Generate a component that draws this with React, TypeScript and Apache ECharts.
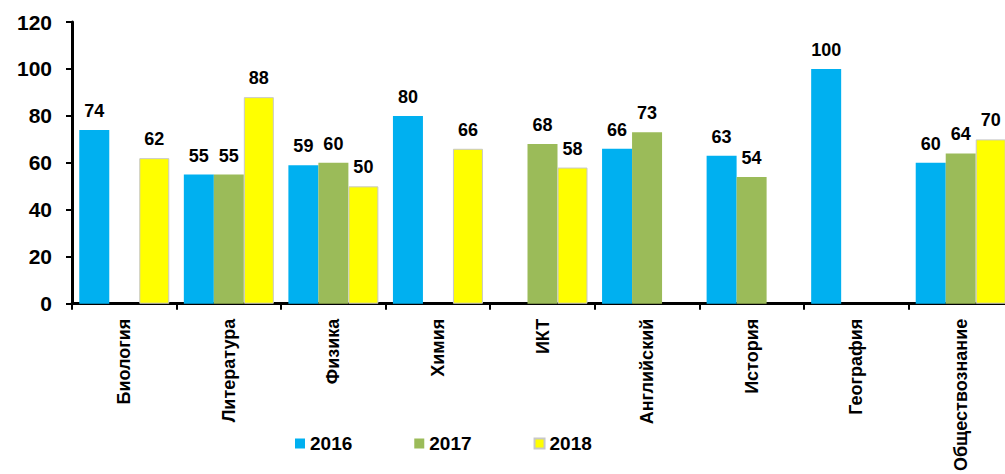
import React, { useEffect, useRef } from "react";
import * as echarts from "echarts";

const categories = [
  "Биология",
  "Литература",
  "Физика",
  "Химия",
  "ИКТ",
  "Английский",
  "История",
  "География",
  "Обществознание",
];
const years = ["2016", "2017", "2018"];
const values2016 = [74, 55, 59, 80, null, 66, 63, 100, 60];
const values2017 = [null, 55, 60, null, 68, 73, 54, null, 64];
const values2018 = [62, 88, 50, 66, 58, null, null, null, 70];
const yTicks = { min: 0, max: 120, interval: 20 };
const colors = ["#00B0F0", "#9BBB59", "#FFFF00"];

const FONT = "'Liberation Sans', Arial, sans-serif";

export default function App() {
  const ref = useRef<HTMLDivElement>(null);
  useEffect(() => {
    if (!ref.current) return;
    const chart = echarts.init(ref.current, undefined, { renderer: "svg" });
    const seriesData = [values2016, values2017, values2018];
    chart.setOption({
      animation: false,
      backgroundColor: "#ffffff",
      textStyle: { fontFamily: FONT },
      grid: { left: 72, right: 0, top: 22, bottom: 169, containLabel: false },
      legend: {
        data: years,
        left: 290,
        top: 429,
        itemWidth: 10,
        itemHeight: 10,
        itemGap: 62,
        icon: "rect",
        textStyle: { fontFamily: FONT, fontSize: 19, fontWeight: "bold", color: "#000" },
      },
      xAxis: {
        type: "category",
        data: categories,
        axisLine: { lineStyle: { color: "#000", width: 3 } },
        axisTick: { show: true, alignWithLabel: false, length: 6, lineStyle: { color: "#000", width: 2 } },
        axisLabel: {
          rotate: 90,
          margin: 15,
          interval: 0,
          fontFamily: FONT,
          fontSize: 18,
          fontWeight: "bold",
          color: "#000",
        },
        splitLine: { show: false },
      },
      yAxis: {
        type: "value",
        min: yTicks.min,
        max: yTicks.max,
        interval: yTicks.interval,
        axisLine: { show: true, lineStyle: { color: "#000", width: 3 } },
        axisTick: { show: true, length: 6, lineStyle: { color: "#000", width: 2 } },
        axisLabel: { margin: 20, fontFamily: FONT, fontSize: 21, fontWeight: "bold", color: "#000" },
        splitLine: { show: false },
      },
      series: years.map((y, i) => ({
        name: y,
        type: "bar",
        data: seriesData[i],
        barWidth: 30,
        barGap: "0%",
        itemStyle: {
          color: colors[i],
          borderColor: i === 2 ? "#c8c8c8" : colors[i],
          borderWidth: i === 2 ? 1 : 0,
        },
        label: {
          show: true,
          position: "top",
          distance: 10,
          fontFamily: FONT,
          fontSize: 18,
          fontWeight: "bold",
          color: "#000",
        },
      })),
    });
    return () => chart.dispose();
  }, []);
  return (
    <div
      style={{
        position: "fixed",
        left: 0,
        top: 0,
        width: 1005,
        height: 474,
        overflow: "hidden",
        background: "#fff",
      }}
    >
      <div ref={ref} style={{ width: 1013, height: 474 }} />
    </div>
  );
}
